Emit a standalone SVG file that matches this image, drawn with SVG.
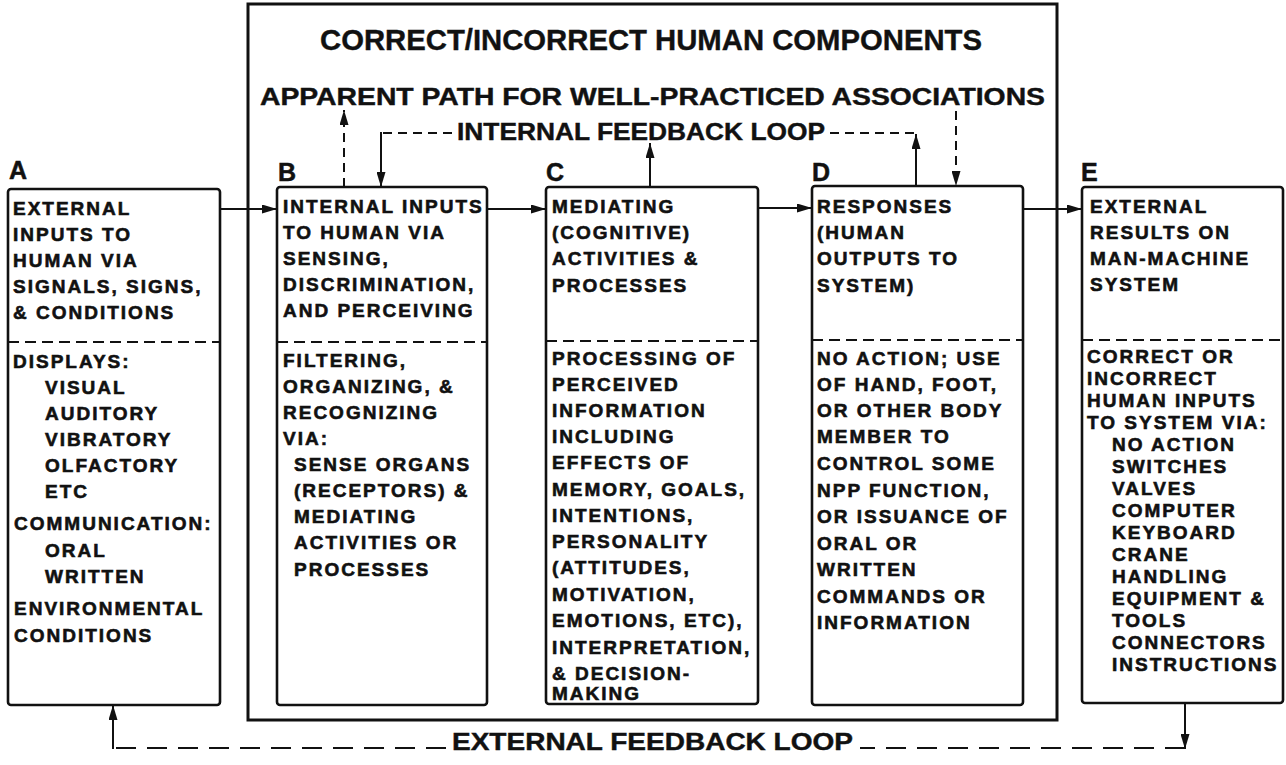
<svg xmlns="http://www.w3.org/2000/svg" width="1286" height="765" viewBox="0 0 1286 765">
<style>
.bx{fill:#fff;stroke:#111;stroke-width:2.6}
.div{stroke:#111;stroke-width:2;stroke-dasharray:11 6;fill:none}
.t{font-family:"Liberation Sans",Arial,sans-serif;font-weight:bold;font-size:19px;letter-spacing:2px;fill:#111;stroke:#111;stroke-width:0.6px}
.lbl{font-family:"Liberation Sans",Arial,sans-serif;font-weight:bold;font-size:25px;fill:#111;stroke:#111;stroke-width:0.5px}
.hd{font-family:"Liberation Sans",Arial,sans-serif;font-weight:bold;fill:#111;stroke:#111;stroke-width:0.4px}
.c{stroke:#111;stroke-width:2;fill:none}
.cd{stroke:#111;stroke-width:2;fill:none;stroke-dasharray:9 6}
.ce{stroke:#111;stroke-width:2;fill:none;stroke-dasharray:20 11}
</style>
<defs>
<marker id="ah" markerUnits="userSpaceOnUse" markerWidth="16" markerHeight="9" refX="15" refY="4.5" orient="auto">
<path d="M0,0 L15,4.5 L0,9 z" fill="#111"/>
</marker>
</defs>
<rect width="1286" height="765" fill="#fff"/>

<g id="human-components">
<rect x="248" y="4" width="809" height="716" fill="none" stroke="#111" stroke-width="3"/>
<text class="hd" x="320" y="50" font-size="30" textLength="662" lengthAdjust="spacingAndGlyphs">CORRECT/INCORRECT HUMAN COMPONENTS</text>
<text class="hd" x="260" y="105" font-size="23" textLength="785" lengthAdjust="spacingAndGlyphs">APPARENT PATH FOR WELL-PRACTICED ASSOCIATIONS</text>
<text class="hd" x="457" y="140" font-size="23" textLength="368" lengthAdjust="spacingAndGlyphs">INTERNAL FEEDBACK LOOP</text>
</g>

<g id="node-A">
<text class="lbl" x="9" y="179">A</text>
<rect class="bx" x="8" y="189" width="212" height="516" rx="3"/>
<line class="div" x1="8" y1="342" x2="220" y2="342"/>
<text class="t">
<tspan x="13" y="215">EXTERNAL</tspan>
<tspan x="13" y="241">INPUTS TO</tspan>
<tspan x="13" y="267">HUMAN VIA</tspan>
<tspan x="13" y="293">SIGNALS, SIGNS,</tspan>
<tspan x="13" y="319">&amp; CONDITIONS</tspan>
<tspan x="13" y="368">DISPLAYS:</tspan>
<tspan x="45" y="394">VISUAL</tspan>
<tspan x="45" y="420">AUDITORY</tspan>
<tspan x="45" y="446">VIBRATORY</tspan>
<tspan x="45" y="472">OLFACTORY</tspan>
<tspan x="45" y="498">ETC</tspan>
<tspan x="14" y="530">COMMUNICATION:</tspan>
<tspan x="45" y="557">ORAL</tspan>
<tspan x="45" y="583">WRITTEN</tspan>
<tspan x="14" y="615">ENVIRONMENTAL</tspan>
<tspan x="14" y="642">CONDITIONS</tspan>
</text>
</g>

<g id="node-B">
<text class="lbl" x="278" y="181">B</text>
<rect class="bx" x="277" y="187" width="210" height="518" rx="3"/>
<line class="div" x1="277" y1="342" x2="487" y2="342"/>
<text class="t">
<tspan x="283" y="213">INTERNAL INPUTS</tspan>
<tspan x="283" y="239">TO HUMAN VIA</tspan>
<tspan x="283" y="265">SENSING,</tspan>
<tspan x="283" y="291">DISCRIMINATION,</tspan>
<tspan x="283" y="317">AND PERCEIVING</tspan>
<tspan x="283" y="367">FILTERING,</tspan>
<tspan x="283" y="393">ORGANIZING, &amp;</tspan>
<tspan x="283" y="419">RECOGNIZING</tspan>
<tspan x="283" y="445">VIA:</tspan>
<tspan x="294" y="471">SENSE ORGANS</tspan>
<tspan x="294" y="497">(RECEPTORS) &amp;</tspan>
<tspan x="294" y="523">MEDIATING</tspan>
<tspan x="294" y="549">ACTIVITIES OR</tspan>
<tspan x="294" y="576">PROCESSES</tspan>
</text>
</g>

<g id="node-C">
<text class="lbl" x="546" y="181">C</text>
<rect class="bx" x="546" y="187" width="212" height="517" rx="3"/>
<line class="div" x1="546" y1="341" x2="758" y2="341"/>
<text class="t">
<tspan x="552" y="213">MEDIATING</tspan>
<tspan x="552" y="239">(COGNITIVE)</tspan>
<tspan x="552" y="265">ACTIVITIES &amp;</tspan>
<tspan x="552" y="292">PROCESSES</tspan>
<tspan x="552" y="365">PROCESSING OF</tspan>
<tspan x="552" y="391">PERCEIVED</tspan>
<tspan x="552" y="417">INFORMATION</tspan>
<tspan x="552" y="443">INCLUDING</tspan>
<tspan x="552" y="469">EFFECTS OF</tspan>
<tspan x="552" y="496">MEMORY, GOALS,</tspan>
<tspan x="552" y="522">INTENTIONS,</tspan>
<tspan x="552" y="548">PERSONALITY</tspan>
<tspan x="552" y="574">(ATTITUDES,</tspan>
<tspan x="552" y="601">MOTIVATION,</tspan>
<tspan x="552" y="627">EMOTIONS, ETC),</tspan>
<tspan x="552" y="654">INTERPRETATION,</tspan>
<tspan x="552" y="680">&amp; DECISION-</tspan>
<tspan x="552" y="700">MAKING</tspan>
</text>
</g>

<g id="node-D">
<text class="lbl" x="812" y="181">D</text>
<rect class="bx" x="812" y="186" width="211" height="519" rx="3"/>
<line class="div" x1="812" y1="340" x2="1023" y2="340"/>
<text class="t">
<tspan x="817" y="213">RESPONSES</tspan>
<tspan x="817" y="239">(HUMAN</tspan>
<tspan x="817" y="265">OUTPUTS TO</tspan>
<tspan x="817" y="292">SYSTEM)</tspan>
<tspan x="817" y="365">NO ACTION; USE</tspan>
<tspan x="817" y="391">OF HAND, FOOT,</tspan>
<tspan x="817" y="417">OR OTHER BODY</tspan>
<tspan x="817" y="443">MEMBER TO</tspan>
<tspan x="817" y="470">CONTROL SOME</tspan>
<tspan x="817" y="497">NPP FUNCTION,</tspan>
<tspan x="817" y="523">OR ISSUANCE OF</tspan>
<tspan x="817" y="550">ORAL OR</tspan>
<tspan x="817" y="576">WRITTEN</tspan>
<tspan x="817" y="603">COMMANDS OR</tspan>
<tspan x="817" y="629">INFORMATION</tspan>
</text>
</g>

<g id="node-E">
<text class="lbl" x="1081" y="181">E</text>
<rect class="bx" x="1082" y="187" width="201" height="516" rx="3"/>
<line class="div" x1="1082" y1="340" x2="1283" y2="340"/>
<text class="t">
<tspan x="1090" y="213">EXTERNAL</tspan>
<tspan x="1090" y="239">RESULTS ON</tspan>
<tspan x="1090" y="265">MAN-MACHINE</tspan>
<tspan x="1090" y="291">SYSTEM</tspan>
<tspan x="1087" y="363">CORRECT OR</tspan>
<tspan x="1087" y="385">INCORRECT</tspan>
<tspan x="1087" y="407">HUMAN INPUTS</tspan>
<tspan x="1087" y="429">TO SYSTEM VIA:</tspan>
<tspan x="1112" y="451">NO ACTION</tspan>
<tspan x="1112" y="473">SWITCHES</tspan>
<tspan x="1112" y="495">VALVES</tspan>
<tspan x="1112" y="517">COMPUTER</tspan>
<tspan x="1112" y="539">KEYBOARD</tspan>
<tspan x="1112" y="561">CRANE</tspan>
<tspan x="1112" y="583">HANDLING</tspan>
<tspan x="1112" y="605">EQUIPMENT &amp;</tspan>
<tspan x="1112" y="627">TOOLS</tspan>
<tspan x="1112" y="649">CONNECTORS</tspan>
<tspan x="1112" y="671">INSTRUCTIONS</tspan>
</text>
</g>

<g id="connectors">
<line class="c" x1="220" y1="209" x2="277" y2="209" marker-end="url(#ah)"/>
<line class="c" x1="487" y1="209" x2="546" y2="209" marker-end="url(#ah)"/>
<line class="c" x1="758" y1="208" x2="812" y2="208" marker-end="url(#ah)"/>
<line class="c" x1="1023" y1="209" x2="1082" y2="209" marker-end="url(#ah)"/>
<line class="cd" x1="344" y1="187" x2="344" y2="110" marker-end="url(#ah)"/>
<line class="cd" x1="452" y1="133" x2="381" y2="133"/>
<line class="c" x1="381" y1="132" x2="381" y2="187" marker-end="url(#ah)"/>
<line class="c" x1="650" y1="187" x2="650" y2="143" marker-end="url(#ah)"/>
<line class="cd" x1="830" y1="133" x2="916" y2="133"/>
<line class="c" x1="916" y1="186" x2="916" y2="134" marker-end="url(#ah)"/>
<line class="cd" x1="956" y1="111" x2="956" y2="186" marker-end="url(#ah)"/>
<line class="c" x1="1185" y1="703" x2="1185" y2="749" marker-end="url(#ah)"/>
<line class="ce" x1="1185" y1="748" x2="860" y2="748"/>
<text class="hd" x="452" y="750" font-size="23" textLength="401" lengthAdjust="spacingAndGlyphs">EXTERNAL FEEDBACK LOOP</text>
<line class="ce" x1="446" y1="748" x2="113" y2="748"/>
<line class="c" x1="113" y1="749" x2="113" y2="705" marker-end="url(#ah)"/>
</g>
</svg>
